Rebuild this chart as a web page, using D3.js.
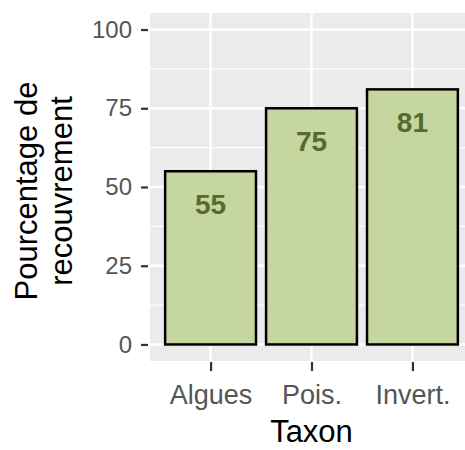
<!DOCTYPE html>
<html><head><meta charset="utf-8">
<script src="https://cdn.jsdelivr.net/npm/d3@7"></script>
<style>body{margin:0;background:#fff;} svg{display:block;}</style>
</head><body>
<svg id="chart" width="465" height="450"></svg>
<script>
const categories = ["Algues", "Pois.", "Invert."];
const values = [55, 75, 81];
const yTicks = [0, 25, 50, 75, 100];
const yMinor = [12.5, 37.5, 62.5, 87.5];
const xTitle = "Taxon";
const yTitleLines = ["Pourcentage de", "recouvrement"];

const svg = d3.select("#chart");
const panel = {left: 150, top: 13, right: 473, bottom: 361};
const font = "'Liberation Sans', Arial, sans-serif";

const y = d3.scaleLinear().domain([-5.25, 105.25]).range([panel.bottom, panel.top]);
const x = d3.scalePoint().domain(categories).range([panel.left, panel.right]).padding(0.6);
const step = x.step();

svg.append("rect").attr("x", panel.left).attr("y", panel.top)
  .attr("width", panel.right - panel.left).attr("height", panel.bottom - panel.top)
  .attr("fill", "#EBEBEB");

svg.append("g").selectAll("line").data(yMinor).join("line")
  .attr("x1", panel.left).attr("x2", panel.right)
  .attr("y1", d => y(d)).attr("y2", d => y(d))
  .attr("stroke", "#fff").attr("stroke-width", 1.2);
svg.append("g").selectAll("line").data(yTicks).join("line")
  .attr("x1", panel.left).attr("x2", panel.right)
  .attr("y1", d => y(d)).attr("y2", d => y(d))
  .attr("stroke", "#fff").attr("stroke-width", 2.4);
svg.append("g").selectAll("line").data(categories).join("line")
  .attr("x1", d => x(d)).attr("x2", d => x(d))
  .attr("y1", panel.top).attr("y2", panel.bottom)
  .attr("stroke", "#fff").attr("stroke-width", 2.4);

const bw = step * 0.9;
svg.append("g").selectAll("rect").data(values).join("rect")
  .attr("x", (d, i) => x(categories[i]) - bw / 2)
  .attr("y", d => y(d))
  .attr("width", bw)
  .attr("height", d => y(0) - y(d))
  .attr("fill", "#C5D6A0")
  .attr("stroke", "#000").attr("stroke-width", 2.5);

svg.append("g").selectAll("text").data(values).join("text")
  .attr("x", (d, i) => x(categories[i]))
  .attr("y", d => y(d) + 43)
  .attr("text-anchor", "middle")
  .attr("font-family", font).attr("font-weight", "bold").attr("font-size", 28)
  .attr("fill", "#556B2F")
  .text(d => d);

// y axis
const yAxis = d3.axisLeft(y).tickValues(yTicks).tickSize(7).tickPadding(9);
const gy = svg.append("g").attr("transform", `translate(${panel.left - 2},0)`).call(yAxis);
gy.select(".domain").remove();
gy.selectAll(".tick line").attr("stroke", "#333").attr("stroke-width", 2.2);
gy.selectAll(".tick text").attr("font-family", font).attr("font-size", 24).attr("fill", "#555");

// x axis
const xAxis = d3.axisBottom(x).tickSize(9).tickPadding(14);
const gx = svg.append("g").attr("transform", `translate(0,${panel.bottom + 1})`).call(xAxis);
gx.select(".domain").remove();
gx.selectAll(".tick line").attr("stroke", "#333").attr("stroke-width", 2.2);
gx.selectAll(".tick text").attr("font-family", font).attr("font-size", 27).attr("fill", "#555");

svg.append("text").attr("x", x(categories[1])).attr("y", 442)
  .attr("text-anchor", "middle").attr("font-family", font).attr("font-size", 31)
  .attr("fill", "#000").text(xTitle);

const yt = svg.append("text").attr("transform", "translate(37,191) rotate(-90)")
  .attr("text-anchor", "middle").attr("font-family", font).attr("font-size", 31).attr("fill", "#000");
yTitleLines.forEach((t, i) => yt.append("tspan").attr("x", 0).attr("dy", i === 0 ? 0 : 35).text(t));
</script>
</body></html>
